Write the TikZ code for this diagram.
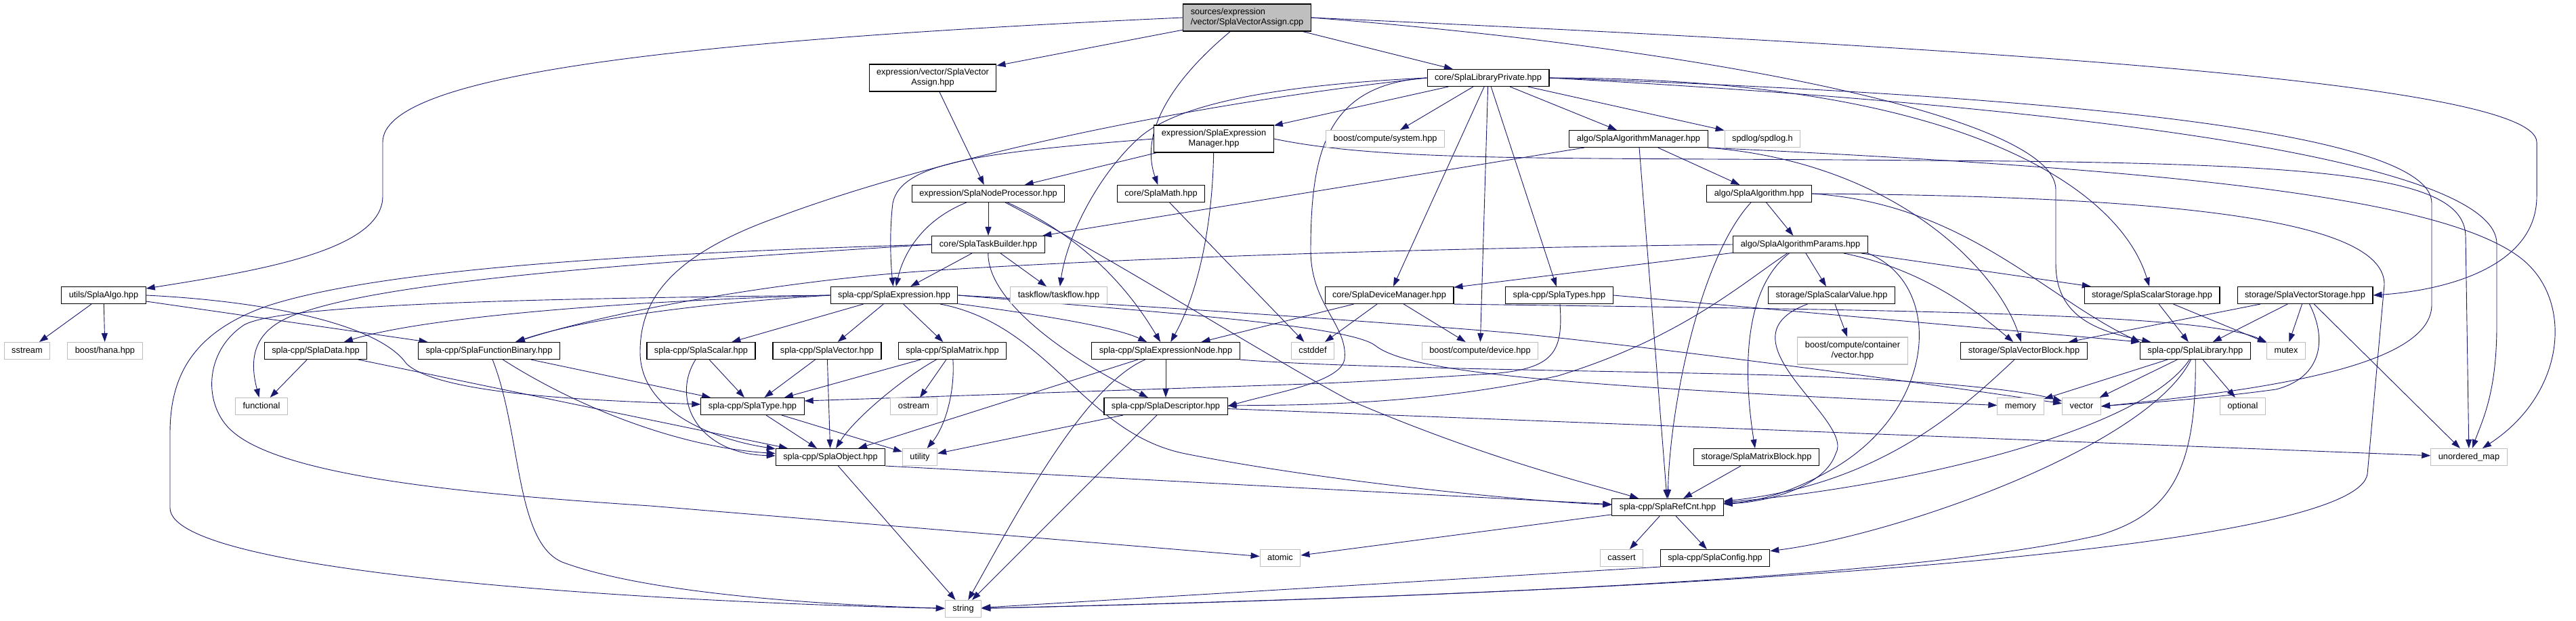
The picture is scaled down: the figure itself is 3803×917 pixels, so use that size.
\documentclass[tikz,border=0pt]{standalone}
\usepackage{fontspec}
\setmainfont{Liberation Sans}
\usetikzlibrary{arrows.meta,backgrounds}
\definecolor{incblue}{HTML}{191970}
\definecolor{sysgray}{HTML}{BFBFBF}

\begin{document}
\begin{tikzpicture}[x=1pt,y=-1pt,font=\fontsize{12.8}{15}\selectfont,
  basebox/.style={draw=black,line width=1.1pt,fill=white,inner xsep=11pt,inner ysep=3pt},
  hdrbox/.style={basebox,minimum height=25pt,text height=9.4pt,text depth=2.8pt},
  sysbox/.style={hdrbox,draw=sysgray},
  twobox/.style={basebox,align=center,minimum height=40pt},
  inc/.style={draw=incblue,line width=0.9pt,-{Triangle[length=13pt,width=9pt]}}]
  \path[use as bounding box] (0,0) rectangle (3803,917);

  \node[twobox,fill=sysgray,align=left] (src) at (1841,26) {sources/expression\\/vector/SplaVectorAssign.cpp};
  \node[twobox] (vasg) at (1377,115) {expression/vector/SplaVector\\Assign.hpp};
  \node[twobox] (emgr) at (1792,205) {expression/SplaExpression\\Manager.hpp};
  \node[twobox,draw=sysgray] (bvec) at (2735,518) {boost/compute/container\\/vector.hpp};

  \foreach \n/\x/\y/\t in {lpriv/2197/115/{core/SplaLibraryPrivate.hpp},
      amgr/2419/205/{algo/SplaAlgorithmManager.hpp}, nproc/1459/286/{expression/SplaNodeProcessor.hpp},
      smath/1714/286/{core/SplaMath.hpp}, alg/2597/286/{algo/SplaAlgorithm.hpp},
      tbld/1459/361/{core/SplaTaskBuilder.hpp}, aparams/2658/361/{algo/SplaAlgorithmParams.hpp},
      algo/153/436/{utils/SplaAlgo.hpp}, sexpr/1320/436/{spla-cpp/SplaExpression.hpp},
      devmgr/2051/436/{core/SplaDeviceManager.hpp}, stypes/2302/436/{spla-cpp/SplaTypes.hpp},
      scval/2704/436/{storage/SplaScalarValue.hpp}, scstor/3177/436/{storage/SplaScalarStorage.hpp},
      vcstor/3403/436/{storage/SplaVectorStorage.hpp}, sdata/466/518/{spla-cpp/SplaData.hpp},
      fbin/722/518/{spla-cpp/SplaFunctionBinary.hpp}, sscalar/1035/518/{spla-cpp/SplaScalar.hpp},
      svector/1221/518/{spla-cpp/SplaVector.hpp}, smatrix/1406/518/{spla-cpp/SplaMatrix.hpp},
      exnode/1721/518/{spla-cpp/SplaExpressionNode.hpp}, vblock/2988/518/{storage/SplaVectorBlock.hpp},
      slib/3241/518/{spla-cpp/SplaLibrary.hpp}, stype/1111/600/{spla-cpp/SplaType.hpp},
      sdesc/1721/600/{spla-cpp/SplaDescriptor.hpp}, sobj/1226/675/{spla-cpp/SplaObject.hpp},
      mblock/2593/675/{storage/SplaMatrixBlock.hpp}, refcnt/2462/749/{spla-cpp/SplaRefCnt.hpp},
      sconfig/2532/824/{spla-cpp/SplaConfig.hpp}}{
    \node[hdrbox] (\n) at (\x,\y) {\t};
  }
  \foreach \n/\x/\y/\t in {bsys/2045/205/{boost/compute/system.hpp}, spdlog/2602/205/{spdlog/spdlog.h},
      tflow/1563/436/{taskflow/taskflow.hpp}, sstream/40/518/sstream, hana/155/518/{boost/hana.hpp},
      cstddef/1938/518/cstddef, bdev/2185/518/{boost/compute/device.hpp}, mutex/3375/518/mutex,
      functional/386/600/functional, ostream/1349/600/ostream, memory/2983/600/memory,
      vector/3073/600/vector, optional/3311/600/optional, utility/1358/675/utility,
      umap/3645/675/unordered\_map, atomic/1890/824/atomic, cassert/2394/824/cassert,
      string/1422/899/string}{
    \node[sysbox] (\n) at (\x,\y) {\t};
  }

  \begin{scope}[on background layer]
  \fill[white] (0,0) rectangle (3803,917);
  \foreach \a/\b in {src/vasg, src/lpriv, vasg/nproc, lpriv/emgr, lpriv/bsys, lpriv/amgr, lpriv/spdlog,
      lpriv/devmgr, lpriv/bdev, lpriv/stypes, emgr/nproc, nproc/tbld, amgr/alg, amgr/tbld, amgr/refcnt,
      alg/aparams, aparams/devmgr, aparams/scval, aparams/scstor, tbld/sexpr, tbld/tflow, smath/cstddef,
      scval/bvec, devmgr/exnode, devmgr/cstddef, devmgr/bdev, algo/sstream, algo/hana, algo/fbin,
      sexpr/sscalar, sexpr/svector, sexpr/smatrix, sdata/functional, sdata/sobj, fbin/stype,
      sscalar/stype, svector/stype, svector/sobj, smatrix/stype, smatrix/ostream, exnode/sdesc,
      exnode/sobj, stype/sobj, stype/utility, sdesc/utility, sdesc/string, sdesc/umap, sobj/string,
      vcstor/vblock, vcstor/slib, vcstor/mutex, vcstor/umap, scstor/slib, scstor/mutex, slib/memory,
      slib/vector, slib/optional, mblock/refcnt, refcnt/atomic, refcnt/cassert, refcnt/sconfig}{
    \draw[inc] (\a) -- (\b);
  }
  \draw[inc] (stypes.east) -- (slib.north west);
  \draw[inc] (sobj.south east) -- (refcnt);
  \draw[inc] (sconfig.south west) -- (string);

  \draw[inc] (src.west) .. controls (1000,60) and (565,110) .. (565,210) -- (565,290) .. controls (565,370) and (380,400) .. (algo);
  \draw[inc] (src) .. controls (1740,110) and (1680,190) .. (smath);
  \draw[inc] (src.east) .. controls (2900,70) and (3745,120) .. (3745,210) -- (3745,290) .. controls (3745,390) and (3620,428) .. (vcstor.east);
  \draw[inc] (src.east) .. controls (2500,70) and (3035,170) .. (3035,280) -- (3035,390) .. controls (3035,470) and (3100,490) .. (slib);
  \draw[inc] (lpriv.west) .. controls (1900,125) and (1740,150) .. (1680,205) .. controls (1620,260) and (1575,350) .. (tflow);
  \draw[inc] (lpriv.west) .. controls (1960,125) and (1935,220) .. (1935,370) .. controls (1935,450) and (1990,480) .. (1985,530) .. controls (1980,565) and (1880,580) .. (sdesc.east);
  \draw[inc] (lpriv.east) .. controls (2900,115) and (3130,280) .. (scstor);
  \draw[inc] (lpriv.east) .. controls (3000,140) and (3590,190) .. (3590,300) -- (3590,450) .. controls (3590,540) and (3350,575) .. (vector.east);
  \draw[inc] (lpriv.east) .. controls (3200,165) and (3686,250) .. (3686,360) -- (3686,480) .. controls (3686,580) and (3665,620) .. (umap);
  \draw[inc] (lpriv.west) .. controls (1700,160) and (1350,245) .. (1150,320) .. controls (980,380) and (945,450) .. (945,520) .. controls (945,610) and (1060,650) .. (sobj);
  \draw[inc] (emgr.west) .. controls (1450,225) and (1330,240) .. (1318,300) .. controls (1312,350) and (1316,400) .. (sexpr);
  \draw[inc] (emgr) .. controls (1790,330) and (1770,430) .. (exnode);
  \draw[inc] (emgr.east) .. controls (2050,240) and (2300,232) .. (2840,237) .. controls (3450,240) and (3640,260) .. (3640,350) -- (umap);
  \draw[inc] (nproc) .. controls (1350,330) and (1330,390) .. (sexpr);
  \draw[inc] (nproc) .. controls (1620,360) and (1680,450) .. (exnode);
  \draw[inc] (nproc) .. controls (1640,380) and (1860,520) .. (1990,590) .. controls (2200,680) and (2350,715) .. (refcnt);
  \draw[inc] (amgr.south east) .. controls (3200,250) and (3600,290) .. (3720,380) .. controls (3800,440) and (3790,580) .. (umap);
  \draw[inc] (amgr.south east) .. controls (2800,240) and (2950,400) .. (vblock);
  \draw[inc] (alg.east) .. controls (2900,300) and (3020,440) .. (slib.north west);
  \draw[inc] (alg.east) .. controls (3250,290) and (3520,330) .. (3520,420) -- (3495,700) .. controls (3480,800) and (2700,870) .. (string);
  \draw[inc] (alg) .. controls (2510,380) and (2465,600) .. (refcnt);
  \draw[inc] (aparams) .. controls (2850,400) and (2930,470) .. (vblock);
  \draw[inc] (aparams.west) .. controls (2000,368) and (1600,385) .. (1369,400) .. controls (1150,415) and (900,460) .. (fbin);
  \draw[inc] (aparams) .. controls (2570,420) and (2480,500) .. (2300,555) .. controls (2100,600) and (1900,598) .. (sdesc);
  \draw[inc] (aparams) .. controls (2570,430) and (2575,560) .. (mblock);
  \draw[inc] (aparams.south east) .. controls (2870,420) and (2860,600) .. (2710,690) .. controls (2650,725) and (2600,740) .. (refcnt);
  \draw[inc] (scval) .. controls (2530,500) and (2740,620) .. (2710,670) .. controls (2695,715) and (2620,740) .. (refcnt);
  \draw[inc] (devmgr.south east) .. controls (2800,458) and (3250,462) .. (mutex);
  \draw[inc] (stypes) .. controls (2308,520) and (2295,545) .. (2200,552) .. controls (2100,558) and (2000,565) .. (1900,568) -- ([yshift=8pt]stype.east);
  \draw[inc] (tbld) .. controls (1458,440) and (1560,520) .. (sdesc);
  \draw[inc] (tbld.west) .. controls (1000,385) and (600,410) .. (450,460) .. controls (380,480) and (365,520) .. (functional);
  \draw[inc] (tbld.west) .. controls (900,375) and (560,400) .. (400,450) .. controls (280,490) and (251,560) .. (251,640) -- (251,750) .. controls (251,850) and (1000,890) .. (string);
  \draw[inc] (sexpr.west) .. controls (900,445) and (620,470) .. (sdata);
  \draw[inc] (sexpr.west) .. controls (1000,450) and (850,475) .. (fbin);
  \draw[inc] (sexpr) .. controls (1500,460) and (1640,480) .. (exnode);
  \draw[inc] (sexpr.east) .. controls (1750,455) and (2100,480) .. (2247,493) .. controls (2500,520) and (2800,560) .. (vector);
  \draw[inc] (sexpr.east) .. controls (1700,460) and (1990,480) .. (2030,510) .. controls (2080,550) and (2300,570) .. (memory);
  \draw[inc] (sexpr) .. controls (1550,480) and (1600,640) .. (1750,670) .. controls (1950,710) and (2250,740) .. (refcnt);
  \draw[inc] (sexpr.west) .. controls (900,440) and (420,445) .. (360,480) .. controls (300,520) and (300,600) .. (343,637) .. controls (420,705) and (700,730) .. (960,747) -- (atomic);
  \draw[inc] (algo.east) .. controls (400,445) and (560,480) .. (600,537) .. controls (650,585) and (900,592) .. (stype);
  \draw[inc] (exnode.south east) .. controls (2000,545) and (2450,548) .. (2650,555) .. controls (2850,562) and (2980,575) .. (vector);
  \draw[inc] (exnode) .. controls (1600,570) and (1500,760) .. (string);
  \draw[inc] (fbin) .. controls (770,640) and (760,800) .. (830,830) .. controls (950,875) and (1200,893) .. (string);
  \draw[inc] (fbin) .. controls (850,600) and (1000,660) .. (sobj);
  \draw[inc] (sscalar) .. controls (990,590) and (1030,670) .. (sobj);
  \draw[inc] (smatrix) .. controls (1330,560) and (1260,620) .. (sobj);
  \draw[inc] (smatrix) .. controls (1410,580) and (1395,630) .. (utility);
  \draw[inc] (vblock) .. controls (2900,600) and (2780,715) .. (refcnt);
  \draw[inc] (slib) .. controls (3160,640) and (2800,720) .. (refcnt);
  \draw[inc] (slib) .. controls (3170,660) and (2800,790) .. (sconfig);
  \draw[inc] (slib) .. controls (3243,700) and (3200,760) .. (3100,790) .. controls (2800,860) and (2000,885) .. (string);
  \draw[inc] (vcstor) .. controls (3440,510) and (3420,560) .. (3360,575) .. controls (3250,590) and (3150,596) .. (vector.east);
  \end{scope}
\end{tikzpicture}
\end{document}
